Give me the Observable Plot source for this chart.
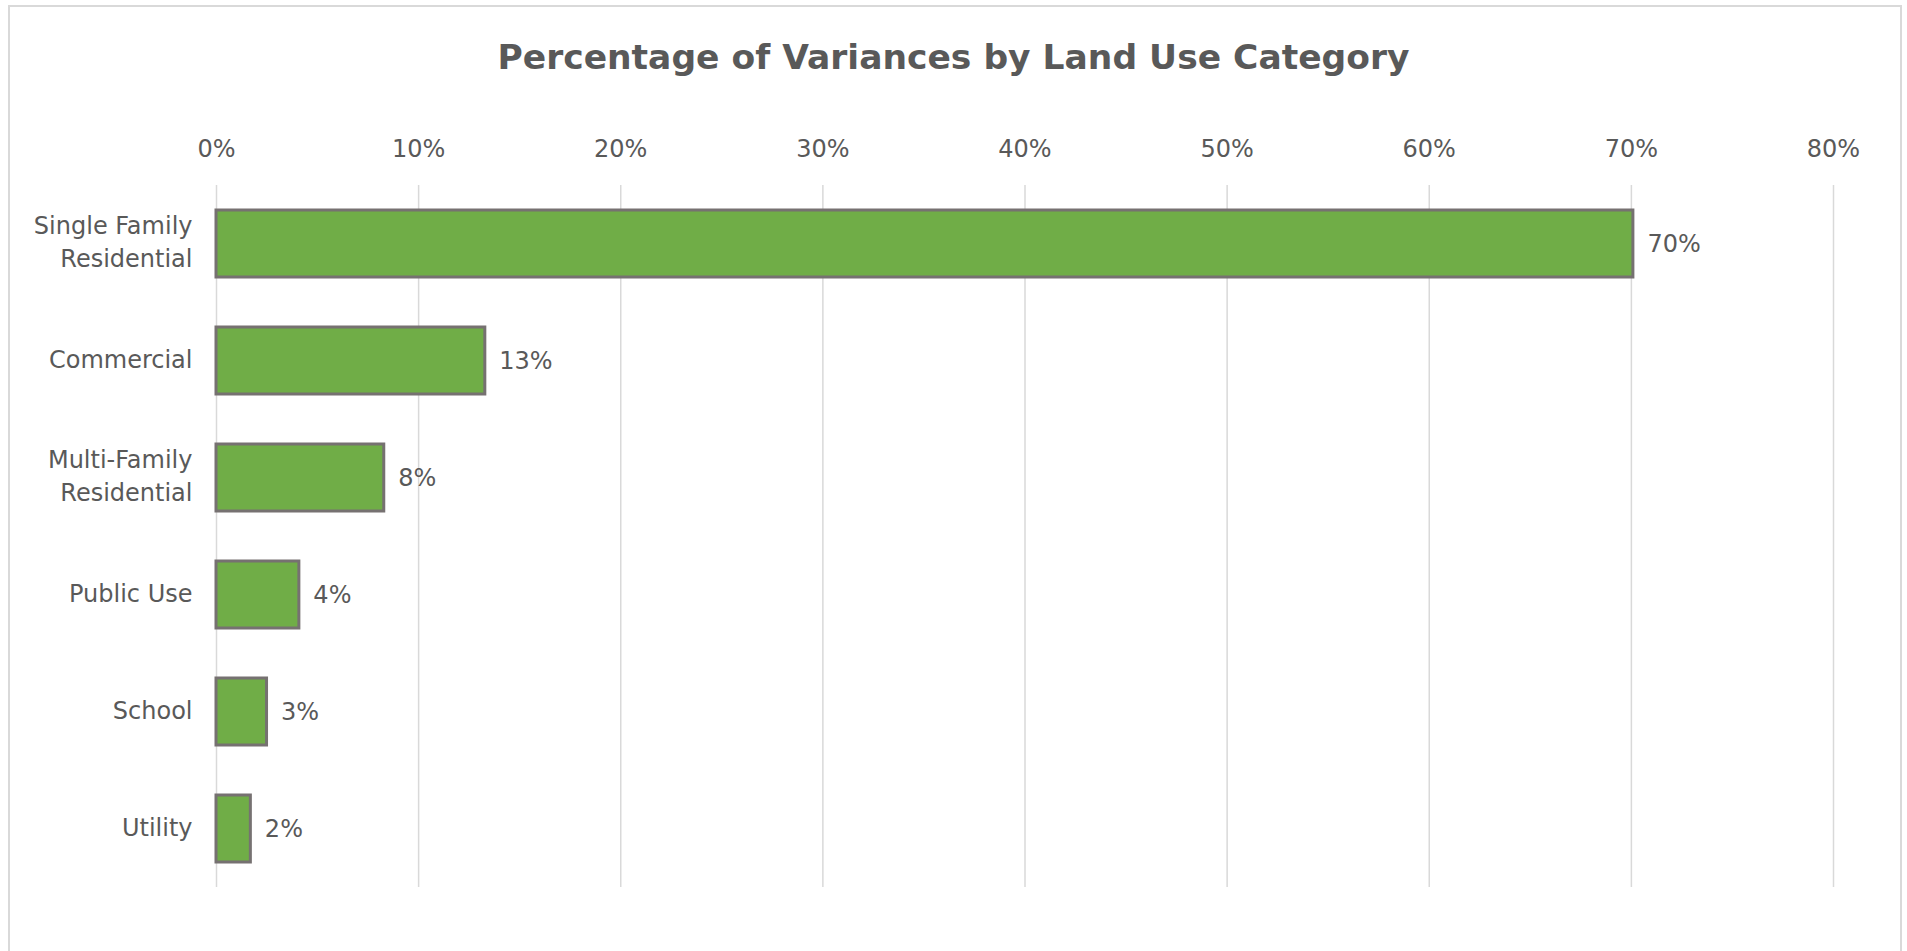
<!DOCTYPE html>
<html><head><meta charset="utf-8">
<script src="https://cdn.jsdelivr.net/npm/d3@7"></script>
<script src="https://cdn.jsdelivr.net/npm/@observablehq/plot@0.6"></script>
<style>
html,body{margin:0;padding:0;background:#fff;width:1907px;height:951px;overflow:hidden;}
#frame{position:absolute;left:8px;top:5px;width:1894px;height:1000px;border:2px solid #d9d9d9;box-sizing:border-box;}
#title{position:absolute;left:0;top:0;width:1907px;height:114px;line-height:114px;text-align:center;font-family:"DejaVu Sans";font-weight:bold;font-size:34.5px;color:#595959;}
#chart{position:absolute;left:0;top:110px;}
</style></head><body>
<div id="frame"></div>
<div id="title">Percentage of Variances by Land Use Category</div>
<div id="chart"></div>
<script>
const categories = ["Single Family\nResidential", "Commercial", "Multi-Family\nResidential", "Public Use", "School", "Utility"];
const shares = [0.701, 0.133, 0.083, 0.041, 0.025, 0.017];
const xTicks = [0, 0.1, 0.2, 0.3, 0.4, 0.5, 0.6, 0.7, 0.8];

const data = categories.map((c, i) => ({category: c, share: shares[i]}));
const pct = d => Math.round(d * 100) + "%";

const plot = Plot.plot({
  width: 1907, height: 841,
  marginLeft: 216, marginRight: 74, marginTop: 75, marginBottom: 64,
  style: {fontFamily: "DejaVu Sans", fontSize: "24px", color: "#595959", background: "transparent"},
  x: {domain: [0, 0.8]},
  y: {domain: categories, paddingInner: 0.43, paddingOuter: 0.215},
  marks: [
    Plot.gridX(xTicks, {stroke: "#d9d9d9", strokeOpacity: 1, strokeWidth: 1.5}),
    Plot.axisX(xTicks, {anchor: "top", tickSize: 0, tickPadding: 29, tickFormat: pct, fill: "#595959", label: null}),
    Plot.axisY({tickSize: 0, tickPadding: 24, fill: "#595959", label: null, lineHeight: 1.375, dy: -4}),
    Plot.barX(data, {x: "share", y: "category", fill: "#70AD47", stroke: "#767171", strokeWidth: 3}),
    Plot.text(data, {x: "share", y: "category", text: d => pct(d.share), dx: 14, textAnchor: "start", fill: "#595959"})
  ]
});
document.getElementById("chart").appendChild(plot);
</script>
</body></html>
